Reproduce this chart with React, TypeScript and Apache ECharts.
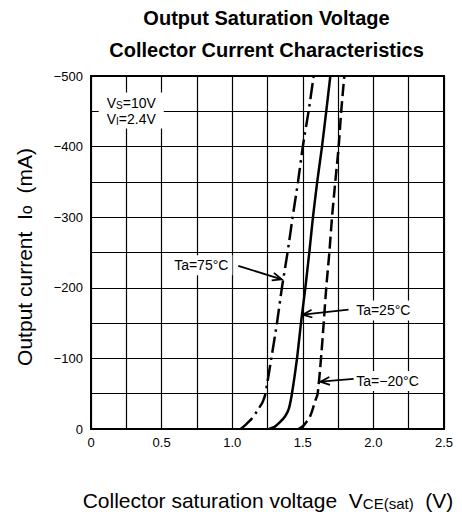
import React, { useEffect, useRef } from 'react';
import * as echarts from 'echarts';

// Ta = 75°C (dash-dot)
const voltage75 = [1.06, 1.1, 1.14, 1.175, 1.215, 1.235, 1.277, 1.317, 1.352, 1.392, 1.428, 1.466, 1.5, 1.541, 1.577];
const current75 = [0, -7, -15, -25, -38, -50, -100, -150, -200, -250, -300, -350, -400, -450, -500];
// Ta = 25°C (solid)
const voltage25 = [1.26, 1.3, 1.34, 1.375, 1.4, 1.423, 1.459, 1.487, 1.518, 1.546, 1.572, 1.602, 1.636, 1.666, 1.695];
const current25 = [0, -3, -10, -18, -28, -50, -100, -150, -200, -250, -300, -350, -400, -450, -500];
// Ta = -20°C (dashed)
const voltageM20 = [1.47, 1.5, 1.518, 1.545, 1.565, 1.585, 1.605, 1.629, 1.648, 1.666, 1.688, 1.707, 1.73, 1.754, 1.772, 1.794];
const currentM20 = [0, -4, -8, -15, -25, -38, -50, -100, -150, -200, -250, -300, -350, -400, -450, -500];

const xTicks = ['0', '0.5', '1.0', '1.5', '2.0', '2.5'];
const yTicks = ['0', '−100', '−200', '−300', '−400', '−500'];

const FONT = '"Liberation Sans", Arial, sans-serif';

const zip = (xs: number[], ys: number[]) => xs.map((x, i) => [x, ys[i]]);

export default function App() {
  const ref = useRef<HTMLDivElement>(null);
  useEffect(() => {
    const chart = echarts.init(ref.current!, null, { renderer: 'svg' });
    const baseLine = { color: '#000', width: 2.5, cap: 'butt' };
    chart.setOption({
      animation: false,
      backgroundColor: '#fff',
      grid: { left: 91, top: 76, width: 353, height: 353, show: true, borderColor: '#000', borderWidth: 2, backgroundColor: 'transparent' },
      xAxis: {
        type: 'value', min: 0, max: 2.5, interval: 0.25,
        axisLine: { show: true, onZero: false, lineStyle: { color: '#000', width: 2 } },
        axisTick: { show: false },
        splitLine: { show: true, lineStyle: { color: '#000', width: 1.2 } },
        axisLabel: {
          margin: 7, color: '#000', fontSize: 13, fontFamily: FONT,
          formatter: (v: number) => {
            const k = Math.round(v / 0.5);
            return Math.abs(v - k * 0.5) < 1e-6 ? xTicks[k] : '';
          },
        },
      },
      yAxis: {
        type: 'value', min: -500, max: 0, interval: 50, inverse: true,
        axisLine: { show: true, onZero: false, lineStyle: { color: '#000', width: 2 } },
        axisTick: { show: false },
        splitLine: { show: true, lineStyle: { color: '#000', width: 1.2 } },
        axisLabel: {
          margin: 8, color: '#000', fontSize: 13, fontFamily: FONT,
          formatter: (v: number) => {
            const k = Math.round(-v / 100);
            return Math.abs(-v - k * 100) < 1e-6 ? yTicks[k] : '';
          },
        },
      },
      series: [
        { type: 'line', name: 'Ta=75°C', data: zip(voltage75, current75), showSymbol: false, smooth: 0.2, lineStyle: { ...baseLine, type: [16, 5, 2.5, 5] } },
        { type: 'line', name: 'Ta=25°C', data: zip(voltage25, current25), showSymbol: false, smooth: 0.2, lineStyle: { ...baseLine, type: 'solid' } },
        { type: 'line', name: 'Ta=−20°C', data: zip(voltageM20, currentM20), showSymbol: false, smooth: 0.2, lineStyle: { ...baseLine, type: [12, 5] } },
      ],
    });

    const px = (p: number[]) => chart.convertToPixel({ gridIndex: 0 }, p) as number[];

    const arrow = (from: number[], to: number[]) => {
      const a = px(from);
      const b = px(to);
      const ang = Math.atan2(b[1] - a[1], b[0] - a[0]);
      const L = 10, spread = 0.4;
      const p1 = [b[0] - L * Math.cos(ang - spread), b[1] - L * Math.sin(ang - spread)];
      const p2 = [b[0] - L * Math.cos(ang + spread), b[1] - L * Math.sin(ang + spread)];
      return [
        { type: 'line', shape: { x1: a[0], y1: a[1], x2: b[0], y2: b[1] }, style: { stroke: '#000', lineWidth: 1.8 }, z: 10 },
        { type: 'polyline', shape: { points: [p1, b, p2] }, style: { stroke: '#000', lineWidth: 1.8, fill: null }, z: 10 },
      ];
    };

    const label = (pos: number[], text: string) => {
      const p = px(pos);
      return {
        type: 'text', x: p[0], y: p[1], z: 10,
        style: { text, align: 'center', verticalAlign: 'middle', fontSize: 14, fontFamily: FONT, fill: '#000', backgroundColor: '#fff', padding: [3, 4] },
      };
    };

    const cond = px([0.285, -451]);

    chart.setOption({
      graphic: [
        { type: 'text', x: 266.5, y: 18, style: { text: 'Output Saturation Voltage', align: 'center', verticalAlign: 'middle', fontSize: 20, fontWeight: 'bold', fontFamily: FONT, fill: '#000' } },
        { type: 'text', x: 266.5, y: 50, style: { text: 'Collector Current Characteristics', align: 'center', verticalAlign: 'middle', fontSize: 20, fontWeight: 'bold', fontFamily: FONT, fill: '#000' } },
        { type: 'text', x: 24, y: 257, rotation: Math.PI / 2, style: { text: 'Output current  I{s|o}  (mA)', align: 'center', verticalAlign: 'middle', fontSize: 21, fontFamily: FONT, fill: '#000', rich: { s: { fontSize: 16, fontFamily: FONT, verticalAlign: 'bottom' } } } },
        { type: 'text', x: 268, y: 500, style: { text: 'Collector saturation voltage  V{s|CE(sat)}  (V)', align: 'center', verticalAlign: 'middle', fontSize: 21, fontFamily: FONT, fill: '#000', rich: { s: { fontSize: 15, fontFamily: FONT, verticalAlign: 'bottom' } } } },
        {
          type: 'text', x: cond[0], y: cond[1], z: 10,
          style: {
            text: 'V{s|S}=10V\nV{s|I}=2.4V', align: 'center', verticalAlign: 'middle', fontSize: 14, lineHeight: 16, fontFamily: FONT, fill: '#000',
            backgroundColor: '#fff', padding: [2, 8],
            rich: { s: { fontSize: 10, fontFamily: FONT, lineHeight: 16, verticalAlign: 'bottom' } },
          },
        },
        label([0.781, -232], 'Ta=75°C'),
        ...arrow([1.043, -231], [1.35, -212]),
        label([2.07, -168], 'Ta=25°C'),
        ...arrow([1.824, -169], [1.5, -162]),
        label([2.1, -68], 'Ta=−20°C'),
        ...arrow([1.86, -71], [1.625, -67]),
      ],
    });
    return () => chart.dispose();
  }, []);
  return <div ref={ref} style={{ position: 'absolute', left: 0, top: 0, width: 462, height: 516 }} />;
}
